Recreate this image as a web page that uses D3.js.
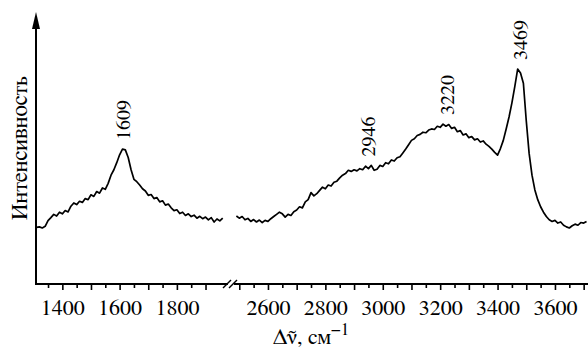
<!DOCTYPE html>
<html>
<head>
<meta charset="utf-8">
<script src="https://cdn.jsdelivr.net/npm/d3@7"></script>
<style>
  body { margin: 0; background: #fff; }
  svg { display: block; }
</style>
</head>
<body>
<svg id="chart" width="588" height="347"></svg>
<script>
// Raman spectrum, two pieces of the wavenumber axis (break between them)
const lowStart = 1310;   // cm-1, step 10
const lowValues = [
  20.8, 21.0, 20.6, 21.2, 23.3, 24.4, 25.6, 25.0, 26.4, 25.8,
  27.0, 26.5, 28.6, 29.8, 29.2, 30.4, 30.0, 31.4, 31.0, 32.8,
  32.2, 34.0, 33.4, 35.3, 34.8, 37.0, 40.0, 42.0, 44.6, 47.5,
  49.6, 49.3, 46.5, 42.0, 38.5, 37.6, 36.4, 35.0, 34.2, 32.6,
  32.9, 31.4, 31.8, 30.2, 30.6, 29.0, 29.4, 28.0, 27.0, 27.3,
  25.9, 26.4, 25.2, 25.8, 24.8, 25.3, 24.2, 24.9, 24.0, 24.6,
  23.6, 24.4, 22.8, 23.9, 23.2, 24.2
];
const highStart = 2490;  // cm-1, step 10
const highValues = [
  25.0, 24.2, 24.8, 23.6, 24.1, 23.0, 23.7, 22.8, 23.5, 22.6,
  23.4, 23.0, 24.0, 24.8, 25.6, 26.4, 25.8, 24.6, 25.6, 25.2,
  26.6, 27.2, 28.4, 28.0, 30.2, 31.0, 33.6, 32.4, 33.2, 34.4,
  35.6, 35.0, 36.4, 36.0, 37.4, 37.8, 39.0, 40.0, 40.6, 41.8,
  41.4, 42.0, 41.6, 42.4, 42.0, 43.3, 42.4, 43.6, 41.8, 42.2,
  43.6, 43.2, 44.6, 44.2, 45.6, 45.2, 46.4, 46.8, 48.2, 49.6,
  51.2, 52.8, 53.4, 54.6, 55.0, 55.8, 55.6, 56.6, 57.0, 56.8,
  58.0, 57.6, 58.8, 58.0, 58.6, 57.2, 57.6, 56.0, 56.4, 54.8,
  55.2, 53.8, 54.2, 53.0, 53.4, 52.2, 52.6, 51.4, 50.6, 49.6,
  48.4, 47.4, 49.8, 52.8, 57.0, 61.4, 66.6, 72.6, 79.0, 77.6,
  73.8, 60.0, 48.0, 40.0, 34.6, 31.0, 28.4, 26.4, 24.8, 23.6,
  23.0, 23.4, 22.4, 22.8, 21.6, 21.0, 20.6, 21.4, 22.0, 21.6,
  22.6, 22.4, 23.0
];
const peakLabels = [1609, 2946, 3220, 3469];
const lowTicks = [1350, 1400, 1450, 1500, 1550, 1600, 1650, 1700, 1750, 1800, 1850, 1900];
const highTicks = [2500, 2550, 2600, 2650, 2700, 2750, 2800, 2850, 2900, 2950, 3000, 3050,
  3100, 3150, 3200, 3250, 3300, 3350, 3400, 3450, 3500, 3550, 3600, 3650, 3700];
const labelledTicks = [1400, 1600, 1800, 2600, 2800, 3000, 3200, 3400, 3600];

const FONT = 'FreeSerif';
const svg = d3.select('#chart');
const axisY = 284, axisX = 36, arrowTop = 12;

const xLow = d3.scaleLinear().domain([1308, 1960]).range([axisX, 222.7]);
const xHigh = d3.scaleLinear().domain([2490, 3720]).range([236.4, 589.4]);
const y = d3.scaleLinear().domain([0, 100]).range([axisY, arrowTop]);

const lowData = lowValues.map((v, i) => [lowStart + i * 10, v]);
const highData = highValues.map((v, i) => [highStart + i * 10, v]);

// x axes (ticks only; axis line drawn by hand because of the break)
function drawAxis(scale, ticks) {
  const g = svg.append('g').attr('transform', `translate(0,${axisY})`)
    .call(d3.axisBottom(scale).tickValues(ticks).tickSizeOuter(0)
      .tickFormat(d => labelledTicks.includes(d) ? d : ''));
  g.attr('font-family', FONT).attr('font-size', 22);
  g.select('.domain').remove();
  g.selectAll('.tick line')
    .attr('y2', d => d % 100 === 0 ? 6 : 4)
    .attr('stroke', '#000').attr('stroke-width', 1.6);
  g.selectAll('.tick text')
    .attr('y', 15).attr('dy', '0.71em')
    .attr('font-family', FONT).attr('font-size', 22).attr('fill', '#000');
}
drawAxis(xLow, lowTicks);
drawAxis(xHigh, highTicks);

function line(x1, y1, x2, y2) {
  return svg.append('line').attr('x1', x1).attr('y1', y1).attr('x2', x2).attr('y2', y2)
    .attr('stroke', '#000').attr('stroke-width', 2);
}
// x axis line with break
const brk = 231;
line(axisX, axisY, brk - 3, axisY);
line(brk + 3, axisY, 588, axisY);
line(brk - 8, axisY + 4, brk, axisY - 4).attr('stroke-width', 1.5);
line(brk - 2, axisY + 4, brk + 6, axisY - 4).attr('stroke-width', 1.5);

// y axis with arrow
line(axisX, axisY + 1, axisX, arrowTop + 10);
svg.append('path')
  .attr('d', `M${axisX},${arrowTop} L${axisX - 4},${arrowTop + 17} L${axisX + 4},${arrowTop + 17} Z`)
  .attr('fill', '#000');

// spectrum
const lineLow = d3.line().x(d => xLow(d[0])).y(d => y(d[1]));
const lineHigh = d3.line().x(d => xHigh(d[0])).y(d => y(d[1]));
svg.append('path').datum(lowData).attr('d', lineLow)
  .attr('fill', 'none').attr('stroke', '#000').attr('stroke-width', 1.7).attr('stroke-linejoin', 'round');
svg.append('path').datum(highData).attr('d', lineHigh)
  .attr('fill', 'none').attr('stroke', '#000').attr('stroke-width', 1.7).attr('stroke-linejoin', 'round');

// peak labels, rotated, just above the curve
peakLabels.forEach(p => {
  const isLow = p < 2000;
  const px = isLow ? xLow(p) : xHigh(p);
  const top = d3.max((isLow ? lowData : highData).filter(d => Math.abs(d[0] - p) <= 15), d => d[1]);
  const py = y(top) - 9;
  svg.append('text')
    .attr('transform', `translate(${px + (p === 3469 ? 10 : 8)},${py}) rotate(-90)`)
    .attr('font-family', FONT).attr('font-size', 20)
    .text(p);
});

// axis titles
svg.append('text')
  .attr('transform', `translate(27,148) rotate(-90)`)
  .attr('text-anchor', 'middle')
  .attr('font-family', FONT).attr('font-size', 23)
  .text('Интенсивность');

const xt = svg.append('text').attr('x', 273).attr('y', 344)
  .attr('font-family', FONT).attr('font-size', 22);
xt.append('tspan').text('Δν\u0303, см');
xt.append('tspan').attr('dy', -9).attr('font-size', 17).text('\u22121');
</script>
</body>
</html>
